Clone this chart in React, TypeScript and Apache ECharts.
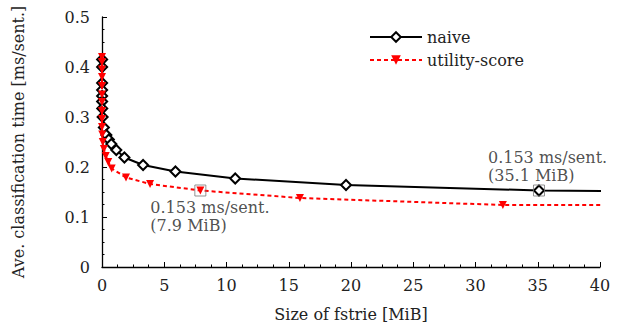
import React, { useEffect, useRef } from "react";
import * as echarts from "echarts";

const naiveSize = [0.01, 0.01, 0.01, 0.01, 0.01, 0.01, 0.02, 0.05, 0.15, 0.35, 0.55, 0.75, 1.15, 1.8, 3.3, 5.9, 10.7, 19.6, 35.1, 70];
const naiveTime = [0.415, 0.4, 0.368, 0.354, 0.342, 0.331, 0.317, 0.3, 0.279, 0.264, 0.255, 0.246, 0.234, 0.219, 0.204, 0.191, 0.177, 0.164, 0.153, 0.146];

const utilSize = [0.0, 0.0, 0.0, 0.0, 0.0, 0.0, 0.0, 0.0, 0.0, 0.0, 0.02, 0.06, 0.15, 0.3, 0.5, 0.78, 1.93, 3.86, 7.9, 15.9, 32.2, 64];
const utilTime = [0.42, 0.41, 0.395, 0.38, 0.362, 0.345, 0.33, 0.312, 0.296, 0.28, 0.265, 0.25, 0.236, 0.222, 0.21, 0.197, 0.179, 0.166, 0.153, 0.138, 0.124, 0.123];

const noteSize = [7.9, 35.1];
const noteTime = [0.153, 0.153];
const noteText = ["0.153 ms/sent.\n(7.9 MiB)", "0.153 ms/sent.\n(35.1 MiB)"];

const xTicks = { min: 0, max: 40, interval: 5 };
const yTicks = { min: 0, max: 0.5, interval: 0.1 };

const FONT = "'DejaVu Serif', serif";
const FS = 16;
const TXT = "#222";

export default function App() {
  const ref = useRef<HTMLDivElement>(null);
  useEffect(() => {
    if (!ref.current) return;
    const chart = echarts.init(ref.current, null, { renderer: "svg" });
    const naiveData = naiveSize.map((x, i) => [x, naiveTime[i]]);
    const utilData = utilSize.map((x, i) => [x, utilTime[i]]);
    const labelOffsets = [
      [-44, 14],
      [-45, -36],
    ];
    const noteData = noteSize.map((x, i) => ({
      value: [x, noteTime[i]],
      label: {
        show: true,
        formatter: noteText[i],
        position: labelOffsets[i],
        align: "left",
        verticalAlign: "top",
      },
    }));
    const txt = { fontFamily: FONT, fontSize: FS, color: TXT };
    chart.setOption({
      animation: false,
      backgroundColor: "#fff",
      textStyle: { fontFamily: FONT, fontSize: FS, color: TXT },
      grid: { left: 102, right: 24, top: 17, bottom: 62, containLabel: false },
      legend: {
        data: ["naive", "utility-score"],
        orient: "vertical",
        left: 364,
        top: 24,
        itemWidth: 52,
        itemHeight: 12,
        itemGap: 7,
        textStyle: txt,
      },
      xAxis: {
        type: "value",
        min: xTicks.min,
        max: xTicks.max,
        interval: xTicks.interval,
        name: "Size of fstrie [MiB]",
        nameLocation: "middle",
        nameGap: 39,
        nameTextStyle: txt,
        axisLine: { show: true, onZero: false, lineStyle: { color: "#000", width: 1.3 } },
        axisTick: { show: true, inside: true, length: 5, lineStyle: { color: "#000" } },
        minorTick: { show: true, splitNumber: 4, length: 2.5, lineStyle: { color: "#000" } },
        axisLabel: { margin: 10, ...txt },
        splitLine: { show: false },
      },
      yAxis: {
        type: "value",
        min: yTicks.min,
        max: yTicks.max,
        interval: yTicks.interval,
        name: "Ave. classification time [ms/sent.]",
        nameLocation: "middle",
        nameGap: 76,
        nameTextStyle: txt,
        axisLine: { show: true, onZero: false, lineStyle: { color: "#000", width: 1.3 } },
        axisTick: { show: true, inside: true, length: 5, lineStyle: { color: "#000" } },
        minorTick: { show: true, splitNumber: 4, length: 2.5, lineStyle: { color: "#000" } },
        axisLabel: { margin: 12, ...txt },
        splitLine: { show: false },
      },
      series: [
        {
          name: "naive",
          type: "line",
          data: naiveData,
          symbol: "diamond",
          symbolSize: 10,
          showAllSymbol: true,
          clip: true,
          lineStyle: { color: "#000", width: 2 },
          itemStyle: { color: "#fff", borderColor: "#000", borderWidth: 2 },
          z: 2,
        },
        {
          name: "utility-score",
          type: "line",
          data: utilData,
          symbol: "triangle",
          symbolRotate: 180,
          symbolSize: 8,
          showAllSymbol: true,
          clip: true,
          lineStyle: { color: "#ff0000", width: 2, type: [4, 3] },
          itemStyle: { color: "#ff0000" },
          z: 3,
        },
        {
          name: "note",
          type: "scatter",
          data: noteData,
          symbol: "rect",
          symbolSize: 11,
          itemStyle: { color: "rgba(0,0,0,0)", borderColor: "#777", borderWidth: 1 },
          label: { ...txt, lineHeight: 18 },
          z: 4,
          silent: true,
        },
      ],
    });
    return () => chart.dispose();
  }, []);
  return <div ref={ref} style={{ width: 624, height: 329, position: "absolute", left: 0, top: 0 }} />;
}
